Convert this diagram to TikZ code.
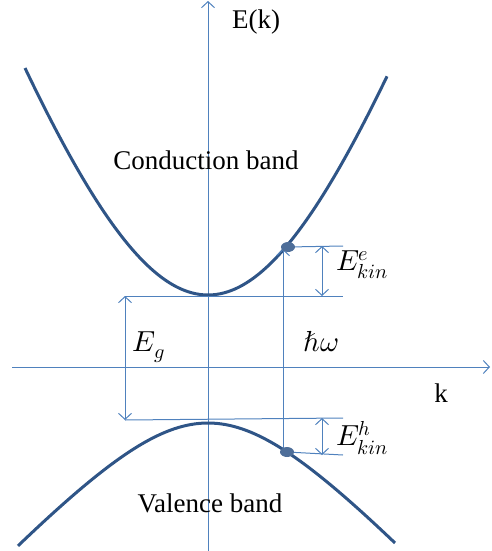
\documentclass[tikz,border=0pt]{standalone}
\usepackage{fontspec}
\usepackage{unicode-math}
\setmainfont{Liberation Serif}
\setmathfont{Latin Modern Math}
\usetikzlibrary{arrows.meta}
\definecolor{axisblue}{RGB}{79,129,189}
\definecolor{bandblue}{RGB}{47,85,135}
\begin{document}
\begin{tikzpicture}[x=1pt, y=-1pt, font=\fontsize{27}{32}\selectfont,
          >={Straight Barb[length=6pt,width=13pt]},
          axis/.style={draw=axisblue, line width=1pt},
          band/.style={draw=bandblue, line width=3pt},
          lbl/.style={inner sep=0pt},
          mlbl/.style={inner sep=0pt, font=\fontsize{29}{34}\selectfont}]
        \useasboundingbox (0,0) rectangle (491,551);
        % axes
        \coordinate (ybot) at (208,551);
        \coordinate (ytop) at (208,1);
        \coordinate (xleft) at (12,367);
        \coordinate (xright) at (490,367);
        \draw[axis, ->] (ybot) -- (ytop);
        \draw[axis, ->] (xleft) -- (xright);
        \node[lbl] (Ek) at (256,22) {E(k)};
        \node[lbl] (kx) at (441,393) {k};
        % bands
        \draw[band] plot[domain=25:387, samples=90, smooth]
          (\x, {295-10*(sqrt(2510+8.33*((\x-208)/10)^2)-50.1)});
        \draw[band] plot[domain=18:395, samples=90, smooth]
          (\x, {423+10*(sqrt(129.96+1.194*((\x-208)/10)^2)-11.4)});
        \node[lbl] (cb) at (206,160) {Conduction band};
        \node[lbl] (vb) at (210,503) {Valence band};
        % levels
        \coordinate (cdot) at (288,247);
        \coordinate (vdot) at (287,452);
        \coordinate (gtop) at (125,296);
        \coordinate (gbot) at (125,420);
        \coordinate (etop) at (343,246);
        \coordinate (emin) at (343,296);
        \coordinate (hmax) at (343,418);
        \coordinate (hbot) at (343,455);
        \foreach \a/\b in {cdot/etop, gtop/emin, gbot/hmax, vdot/hbot}
          \draw[axis] (\a) -- (\b);
        \draw[axis, <->] (gtop) -- (gbot);
        \draw[axis, <->] (322,246) -- (322,296);
        \draw[axis, <->] (322,418) -- (322,455);
        \draw[axis, ->] (283,452) -- (283,249);
        \fill[bandblue!85!white] (cdot) ellipse [x radius=7, y radius=5];
        \fill[bandblue!85!white] (vdot) ellipse [x radius=7, y radius=5];
        \node[mlbl] (Eg) at (149,347) {$E_g$};
        \node[mlbl] (hw) at (321,342) {$\hbar\omega$};
        \node[mlbl] (Ee) at (362,265) {$E^e_{kin}$};
        \node[mlbl] (Eh) at (362,438) {$E^h_{kin}$};
\end{tikzpicture}
\end{document}
